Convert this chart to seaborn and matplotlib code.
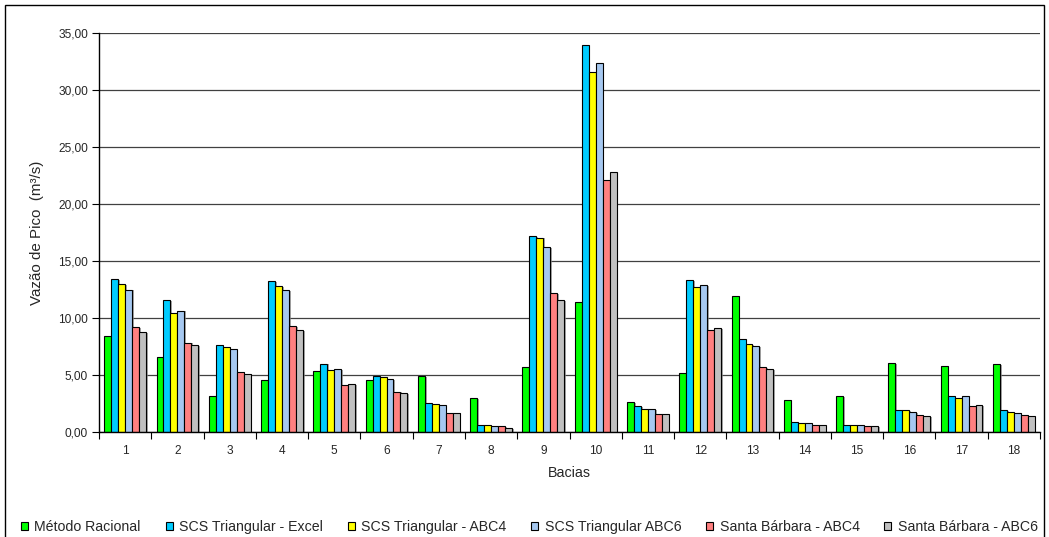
import matplotlib
matplotlib.use("Agg")
import matplotlib.pyplot as plt
import matplotlib.patches as mpatches
import matplotlib.patheffects as pe
from matplotlib.ticker import FuncFormatter, FixedLocator, NullFormatter
import numpy as np
import pandas as pd
import seaborn as sns

bacias = [str(i) for i in range(1, 19)]

metodo_racional = [8.45, 6.55, 3.13, 4.53, 5.32, 4.53, 4.94, 2.95, 5.67, 11.43,
                   2.66, 5.20, 11.93, 2.78, 3.13, 6.05, 5.76, 5.93]
scs_excel = [13.40, 11.55, 7.60, 13.27, 6.00, 4.88, 2.57, 0.58, 17.20, 33.97,
             2.25, 13.33, 8.16, 0.88, 0.58, 1.90, 3.13, 1.90]
scs_abc4 = [13.00, 10.40, 7.43, 12.78, 5.41, 4.80, 2.43, 0.58, 17.05, 31.58,
            1.98, 12.69, 7.69, 0.79, 0.58, 1.90, 2.95, 1.72]
scs_abc6 = [12.50, 10.65, 7.28, 12.43, 5.50, 4.65, 2.34, 0.50, 16.20, 32.37,
            1.98, 12.90, 7.51, 0.79, 0.58, 1.72, 3.13, 1.70]
sb_abc4 = [9.18, 7.85, 5.30, 9.27, 4.10, 3.54, 1.70, 0.50, 12.17, 22.13,
           1.62, 8.95, 5.67, 0.58, 0.49, 1.46, 2.25, 1.46]
sb_abc6 = [8.80, 7.66, 5.12, 8.95, 4.18, 3.45, 1.70, 0.38, 11.58, 22.78,
           1.61, 9.10, 5.53, 0.58, 0.49, 1.37, 2.34, 1.37]

series_names = ["Método Racional", "SCS Triangular - Excel", "SCS Triangular - ABC4",
                "SCS Triangular ABC6", "Santa Bárbara - ABC4", "Santa Bárbara - ABC6"]
series_values = [metodo_racional, scs_excel, scs_abc4, scs_abc6, sb_abc4, sb_abc6]
colors = ["#00FF00", "#00CCFF", "#FFFF00", "#A6C8F0", "#FF8080", "#C0C0C0"]

df = pd.DataFrame(
    [(b, name, v) for name, vals in zip(series_names, series_values)
     for b, v in zip(bacias, vals)],
    columns=["Bacias", "Serie", "Vazao"],
)

sns.set_theme(style="white")
plt.rcParams["font.family"] = ["Liberation Sans", "DejaVu Sans"]

fig = plt.figure(figsize=(10.49, 5.37), dpi=100)
W, H = 1049, 537
ax = fig.add_axes([99 / W, 1 - 432 / H, (1040 - 99) / W, (432 - 33) / H])

sns.barplot(data=df, x="Bacias", y="Vazao", hue="Serie", order=bacias,
            hue_order=series_names, palette=colors, width=0.8,
            edgecolor="black", linewidth=0.8, saturation=1, ax=ax,
            legend=False)

for p in ax.patches:
    p.set_path_effects([pe.SimplePatchShadow(offset=(1.2, -0.6), shadow_rgbFace="#808080", alpha=0.7),
                        pe.Normal()])

ax.set_ylim(0, 35)
ax.set_xlim(-0.5, 17.5)
ax.set_yticks(np.arange(0, 36, 5))
ax.yaxis.set_major_formatter(FuncFormatter(lambda v, _: f"{v:.2f}".replace(".", ",")))
ax.grid(axis="y", color="#404040", linewidth=0.9)
ax.set_axisbelow(True)

# category labels centred, tick marks between categories
ax.xaxis.set_major_locator(FixedLocator(np.arange(-0.5, 18.0, 1.0)))
ax.xaxis.set_major_formatter(NullFormatter())
ax.xaxis.set_minor_locator(FixedLocator(np.arange(0, 18)))
ax.set_xticklabels(bacias, minor=True)
ax.tick_params(axis="x", which="major", direction="out", length=5, width=0.8,
               color="black", bottom=True)
ax.tick_params(axis="x", which="minor", length=0, pad=9, labelsize=8.6)
ax.tick_params(axis="y", direction="out", length=5, width=0.8, color="black",
               left=True, labelsize=8.6, pad=3)

for side in ["top", "right"]:
    ax.spines[side].set_visible(False)
for side in ["left", "bottom"]:
    ax.spines[side].set_color("black")
    ax.spines[side].set_linewidth(1.0)

ax.set_xlabel("Bacias", fontsize=10.3, labelpad=7)
ax.set_ylabel("Vazão de Pico  (m³/s)", fontsize=10.9, labelpad=10)

handles = [mpatches.Patch(facecolor=c, edgecolor="black", linewidth=0.8) for c in colors]
fig.legend(handles, series_names, loc="center left", bbox_to_anchor=(21 / W, 1 - 527 / H),
           ncol=6, frameon=False, fontsize=10.2, handlelength=0.5, handleheight=0.5,
           handletextpad=0.45, columnspacing=1.75, borderaxespad=0, borderpad=0)

# outer chart frame
fig.patches.append(mpatches.Rectangle((5 / W, -0.01), (1044 - 5) / W, 1 - 5 / H + 0.01,
                                      transform=fig.transFigure, fill=False,
                                      edgecolor="black", linewidth=1.0))

fig.savefig("out.png", dpi=100)
